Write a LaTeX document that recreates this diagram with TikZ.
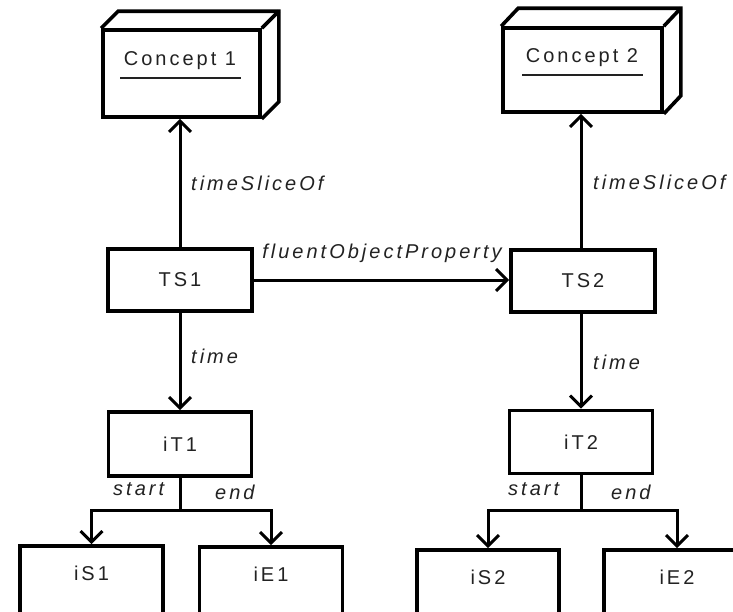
\documentclass[tikz,border=0pt]{standalone}
\usepackage{fontspec}
\setmainfont{Liberation Sans}
\newfontfamily\boxfont{Liberation Sans}[LetterSpace=15]
\newfontfamily\lblfont{Liberation Sans}[LetterSpace=15]
\usetikzlibrary{arrows.meta,calc}
\definecolor{txt}{HTML}{222222}
\begin{document}
\begin{tikzpicture}[x=1pt,y=-1pt,
  box/.style={draw, line width=3.6pt, minimum width=143pt, minimum height=62pt, inner sep=0pt,
    font=\boxfont\fontsize{20pt}{23pt}\selectfont, text=txt},
  lowbox/.style={box, minimum height=72pt, text height=14pt, text depth=18pt},
  cbox/.style={draw, line width=3.6pt, inner sep=0pt, line join=miter},
  depth/.style={line width=3.6pt, line join=miter},
  arr/.style={line width=3pt, -{Straight Barb[length=11pt,width=22pt,line width=3pt]}},
  link/.style={line width=3pt},
  lbl/.style={font=\lblfont\itshape\fontsize{20pt}{23pt}\selectfont, text=txt, inner sep=0pt},
  ctext/.style={font=\boxfont\fontsize{20pt}{23pt}\selectfont, text=txt, inner sep=0pt}]
\useasboundingbox (0,0) rectangle (733,611);
\clip (0,0) rectangle (733,611);
\fill[white] (0,0) rectangle (733,611);

% concept boxes
\node[cbox, minimum width=157pt, minimum height=87pt] (C1) at (181.5,73.5) {};
\draw[depth] (C1.north west) -- ++(17,-17) -- ($(C1.north east)+(17,-17)$) -- ($(C1.south east)+(17,-17)$) -- (C1.south east);
\draw[depth] (C1.north east) -- ++(17,-17);
\node[ctext] (C1t) at (180,61) {Concept 1};
\draw[line width=1.4pt, txt] (120,78) -- (241,78);

\node[cbox, minimum width=159pt, minimum height=84pt] (C2) at (582.5,70) {};
\draw[depth] (C2.north west) -- ++(17,-18) -- ($(C2.north east)+(17,-18)$) -- ($(C2.south east)+(17,-18)$) -- (C2.south east);
\draw[depth] (C2.north east) -- ++(17,-18);
\node[ctext] (C2t) at (582,58) {Concept 2};
\draw[line width=1.4pt, txt] (522,75) -- (643,75);

% main boxes
\node[box, minimum width=144pt] (TS1) at (180,280) {TS1};
\node[box, minimum width=144pt] (TS2) at (583,281) {TS2};
\node[box, minimum height=64pt] (iT1) at (180,444) {iT1};
\node[box, minimum height=63pt] (iT2) at (581,442) {iT2};

\node[lowbox] (iS1) at (91.5,582) {iS1};
\node[lowbox] (iE1) at (271,583) {iE1};
\node[lowbox, minimum width=142pt] (iS2) at (488,586) {iS2};
\node[lowbox, minimum width=146pt] (iE2) at (677,586) {iE2};

% connectors
\draw[arr] (TS1.north) -- (TS1.north |- C1.south);
\draw[arr] (TS2.north -| iT2.north) -- (iT2.north |- C2.south);
\draw[arr] (TS1.east) -- (TS2.west |- TS1.east);
\draw[arr] (TS1.south) -- (iT1.north);
\draw[arr] (TS2.south -| iT2.north) -- (iT2.north);

\coordinate (b1) at ($(iT1.south)+(0,33)$);
\draw[link] (iT1.south) -- (b1);
\draw[arr] (b1) -| (iS1.north);
\draw[arr] (b1) -| (iE1.north);

\coordinate (b2) at ($(iT2.south)+(0,35)$);
\draw[link] (iT2.south) -- (b2);
\draw[arr] (b2) -| (iS2.north);
\draw[arr] (b2) -| (iE2.north);

% labels
\node[lbl, anchor=west] (l1) at (191,183) {timeSliceOf};
\node[lbl, anchor=west] (l2) at (593,182) {timeSliceOf};
\node[lbl] (l3) at (382,253) {fluentObjectProperty};
\node[lbl, anchor=west] (l4) at (191,356) {time};
\node[lbl, anchor=west] (l5) at (593,362) {time};
\node[lbl, anchor=west] (l6) at (113,489) {start};
\node[lbl, anchor=west] (l7) at (215,492) {end};
\node[lbl, anchor=west] (l8) at (508,489) {start};
\node[lbl, anchor=west] (l9) at (611,492) {end};
\end{tikzpicture}
\end{document}
